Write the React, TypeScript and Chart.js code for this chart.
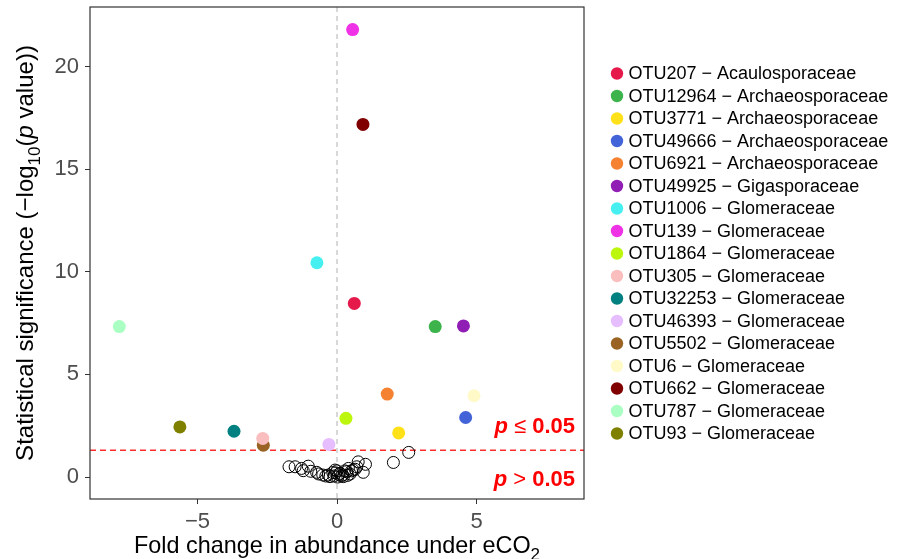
import React, { useEffect, useRef } from "react";
import { Chart, registerables } from "chart.js";

Chart.register(...registerables);

const FONT = "'Liberation Sans', Arial, Helvetica, sans-serif";

// ---- data ----
const otuLabels = [
  "OTU207 − Acaulosporaceae",
  "OTU12964 − Archaeosporaceae",
  "OTU3771 − Archaeosporaceae",
  "OTU49666 − Archaeosporaceae",
  "OTU6921 − Archaeosporaceae",
  "OTU49925 − Gigasporaceae",
  "OTU1006 − Glomeraceae",
  "OTU139 − Glomeraceae",
  "OTU1864 − Glomeraceae",
  "OTU305 − Glomeraceae",
  "OTU32253 − Glomeraceae",
  "OTU46393 − Glomeraceae",
  "OTU5502 − Glomeraceae",
  "OTU6 − Glomeraceae",
  "OTU662 − Glomeraceae",
  "OTU787 − Glomeraceae",
  "OTU93 − Glomeraceae",
];
const otuColors = [
  "#E6194B", "#3CB44B", "#FFE119", "#4363D8", "#F58231", "#911EB4",
  "#46F0F0", "#F032E6", "#BCF60C", "#FABEBE", "#008080", "#E6BEFF",
  "#9A6324", "#FFFAC8", "#800000", "#AAFFC3", "#808000",
];
const otuFold = [0.62, 3.52, 2.21, 4.61, 1.8, 4.53, -0.72, 0.56, 0.32, -2.66, -3.69, -0.29, -2.64, 4.91, 0.93, -7.8, -5.63];
const otuSig = [8.46, 7.33, 2.15, 2.9, 4.04, 7.36, 10.44, 21.8, 2.86, 1.88, 2.23, 1.59, 1.55, 3.96, 17.18, 7.33, 2.44];

const nsFold = [
  -1.72, -1.5, -1.27, -1.03, -1.21, -0.94, -0.73, -0.66, -0.51, -0.31, -0.25, -0.11,
  -0.07, -0.05, 0.02, 0.05, 0.11, 0.16, 0.23, 0.28, 0.35, 0.41, 0.47, 0.52, 0.58,
  0.65, 0.71, 0.76, 0.94, 1.02, -0.15, 0.0, 0.2, -0.4, 0.38, 2.02, 2.57,
];
const nsSig = [
  0.5, 0.5, 0.42, 0.53, 0.31, 0.28, 0.23, 0.15, 0.1, 0.1, 0.02, 0.05,
  0.34, 0.2, 0.0, 0.12, 0.18, 0.05, 0.02, 0.3, 0.26, 0.42, 0.15, 0.3, 0.34,
  0.38, 0.5, 0.74, 0.23, 0.62, 0.22, 0.3, 0.1, 0.05, 0.08, 0.71, 1.2,
];

const xTicks = [-5, 0, 5];
const yTicks = [0, 5, 10, 15, 20];
const xRange = [-8.85, 8.85];
const yRange = [-1.07, 22.9];
const pThreshold = 0.05;

type Seg = { t: string; style?: string; weight?: string; sub?: boolean };

function drawRich(
  ctx: CanvasRenderingContext2D,
  segs: Seg[],
  x: number,
  y: number,
  size: number,
  align: "left" | "center" | "right",
  color: string
) {
  const fontOf = (s: Seg) =>
    `${s.style || "normal"} ${s.weight || "normal"} ${s.sub ? Math.round(size * 0.72) : size}px ${FONT}`;
  const widths = segs.map((s) => {
    ctx.font = fontOf(s);
    return ctx.measureText(s.t).width;
  });
  const total = widths.reduce((a, b) => a + b, 0);
  let cx = align === "left" ? x : align === "center" ? x - total / 2 : x - total;
  ctx.fillStyle = color;
  ctx.textAlign = "left";
  ctx.textBaseline = "alphabetic";
  segs.forEach((s, i) => {
    ctx.font = fontOf(s);
    ctx.fillText(s.t, cx, y + (s.sub ? size * 0.28 : 0));
    cx += widths[i];
  });
}

const fmt = (v: number) => (v < 0 ? "−" + Math.abs(v) : String(v));

const decorPlugin = {
  id: "volcanoDecor",
  beforeDatasetsDraw(chart: any) {
    const { ctx, chartArea: a, scales } = chart;
    const x0 = scales.x.getPixelForValue(0);
    const yt = scales.y.getPixelForValue(-Math.log10(pThreshold));
    ctx.save();
    ctx.strokeStyle = "#BEBEBE";
    ctx.lineWidth = 1.2;
    ctx.setLineDash([5, 4]);
    ctx.beginPath();
    ctx.moveTo(x0, a.top);
    ctx.lineTo(x0, a.bottom);
    ctx.stroke();
    ctx.strokeStyle = "#FF2E2E";
    ctx.lineWidth = 1.5;
    ctx.setLineDash([6, 4]);
    ctx.beginPath();
    ctx.moveTo(a.left, yt);
    ctx.lineTo(a.right, yt);
    ctx.stroke();
    ctx.restore();
  },
  afterDatasetsDraw(chart: any) {
    const { ctx, chartArea: a, scales } = chart;
    const yt = scales.y.getPixelForValue(-Math.log10(pThreshold));
    ctx.save();
    ctx.strokeStyle = "#333333";
    ctx.lineWidth = 1.2;
    ctx.setLineDash([]);
    ctx.strokeRect(a.left, a.top, a.right - a.left, a.bottom - a.top);
    const rx = a.right - 9;
    drawRich(
      ctx,
      [
        { t: "p", style: "italic", weight: "bold" },
        { t: " ≤ " },
        { t: "0.05", weight: "bold" },
      ],
      rx,
      yt - 17.5,
      22,
      "right",
      "#FF0000"
    );
    drawRich(
      ctx,
      [
        { t: "p", style: "italic", weight: "bold" },
        { t: " > " },
        { t: "0.05", weight: "bold" },
      ],
      rx,
      yt + 35.5,
      22,
      "right",
      "#FF0000"
    );
    ctx.restore();
  },
  afterDraw(chart: any) {
    const { ctx, chartArea: a } = chart;
    ctx.save();
    // legend (drawn from the dataset list)
    const ds = chart.data.datasets;
    const n = otuLabels.length;
    const rowH = 22.5;
    const cy = (a.top + a.bottom) / 2 + 0.5;
    ctx.font = `18px ${FONT}`;
    ctx.textAlign = "left";
    ctx.textBaseline = "middle";
    for (let i = 0; i < n; i++) {
      const y = cy + (i - (n - 1) / 2) * rowH;
      ctx.fillStyle = ds[i].backgroundColor;
      ctx.beginPath();
      ctx.arc(a.right + 33, y, 6.2, 0, Math.PI * 2);
      ctx.fill();
      ctx.fillStyle = "#000000";
      ctx.fillText(ds[i].label, a.right + 44.5, y + 1);
    }
    // axis titles
    drawRich(
      ctx,
      [{ t: "Fold change in abundance under eCO" }, { t: "2", sub: true }],
      (a.left + a.right) / 2,
      553,
      23.4,
      "center",
      "#000000"
    );
    ctx.translate(33, (a.top + a.bottom) / 2);
    ctx.rotate(-Math.PI / 2);
    drawRich(
      ctx,
      [
        { t: "Statistical significance (−log" },
        { t: "10", sub: true },
        { t: "(" },
        { t: "p", style: "italic" },
        { t: " value))" },
      ],
      0,
      0,
      24,
      "center",
      "#000000"
    );
    ctx.restore();
  },
};

export default function App() {
  const ref = useRef<HTMLCanvasElement>(null);

  useEffect(() => {
    const canvas = ref.current;
    if (!canvas) return;
    const datasets: any[] = otuLabels.map((label, i) => ({
      label,
      data: [{ x: otuFold[i], y: otuSig[i] }],
      backgroundColor: otuColors[i],
      borderColor: otuColors[i],
      borderWidth: 0,
      pointRadius: 6.5,
      pointHoverRadius: 6.5,
      pointStyle: "circle",
    }));
    datasets.push({
      label: "not significant",
      data: nsFold.map((x, i) => ({ x, y: nsSig[i] })),
      backgroundColor: "rgba(0,0,0,0)",
      borderColor: "#000000",
      borderWidth: 1,
      pointRadius: 6,
      pointHoverRadius: 6,
      pointStyle: "circle",
    });

    const tickFont = { family: FONT, size: 22 };

    const chart = new Chart(canvas, {
      type: "scatter",
      data: { datasets },
      options: {
        animation: false,
        responsive: false,
        devicePixelRatio: 1,
        events: [],
        layout: { padding: { top: 5, left: 0, bottom: 0, right: 320 } },
        plugins: {
          tooltip: { enabled: false },
          legend: { display: false },
        },
        scales: {
          x: {
            type: "linear",
            position: "bottom",
            min: xRange[0],
            max: xRange[1],
            afterBuildTicks: (s: any) => {
              s.ticks = xTicks.map((v) => ({ value: v }));
            },
            ticks: {
              callback: (v: any) => fmt(Number(v)),
              font: tickFont,
              color: "#4D4D4D",
              padding: 5,
              maxRotation: 0,
            },
            grid: { drawOnChartArea: false, drawTicks: true, tickLength: 5, color: "#333333" },
            border: { display: false },
            afterFit: (s: any) => {
              s.height = 60;
              s.paddingLeft = 0;
              s.paddingRight = 0;
            },
          },
          y: {
            type: "linear",
            position: "left",
            min: yRange[0],
            max: yRange[1],
            afterBuildTicks: (s: any) => {
              s.ticks = yTicks.map((v) => ({ value: v }));
            },
            ticks: {
              callback: (v: any) => fmt(Number(v)),
              font: tickFont,
              color: "#4D4D4D",
              padding: 6,
            },
            grid: { drawOnChartArea: false, drawTicks: true, tickLength: 5, color: "#333333" },
            border: { display: false },
            afterFit: (s: any) => {
              s.width = 90;
              s.paddingTop = 0;
              s.paddingBottom = 0;
            },
          },
        },
      } as any,
      plugins: [decorPlugin],
    });
    return () => chart.destroy();
  }, []);

  return (
    <div style={{ position: "fixed", left: 0, top: 0, width: 904, height: 559, background: "#ffffff" }}>
      <canvas ref={ref} width={904} height={559} style={{ display: "block", width: 904, height: 559 }} />
    </div>
  );
}
